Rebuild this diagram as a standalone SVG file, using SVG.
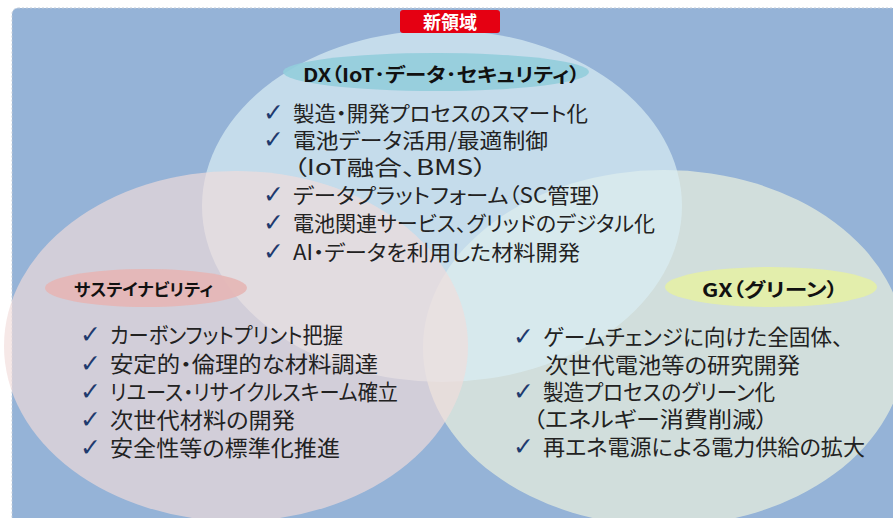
<svg xmlns="http://www.w3.org/2000/svg" width="893" height="518" viewBox="0 0 893 518">
<style>
.t{font-family:'Noto Sans CJK JP','Noto Sans',sans-serif;fill:#222;font-feature-settings:"palt";}
.b{font-weight:700;fill:#111;}
.ck{font-family:'DejaVu Sans',sans-serif;fill:#1f3a6e;font-size:25px;font-weight:700;}
.dx{font-size:21px;}
.it{font-size:21.5px;}
</style>
<rect id="background" x="12" y="8" width="900" height="530" rx="6" fill="#95b3d7" stroke="#c3ccd8" stroke-width="1" stroke-dasharray="2 2"/>
<g id="circle-gx"><ellipse cx="664" cy="348" rx="241" ry="178" fill="#ebf1de" fill-opacity="0.7"/></g>
<g id="circle-dx"><ellipse cx="442" cy="206" rx="240" ry="176" fill="#daeef3" fill-opacity="0.7"/></g>
<g id="circle-sus"><ellipse cx="236" cy="346" rx="232" ry="175" fill="#f2dcdb" fill-opacity="0.66"/></g>

<g id="label-new">
<rect x="400" y="10" width="100" height="23" rx="3" fill="#e50012"/>
<text class="t b" x="450" y="29" font-size="18" text-anchor="middle" style="fill:#fff">新領域</text>
</g>

<g id="label-dx">
<ellipse cx="436" cy="72" rx="153" ry="19" fill="#92cddc" fill-opacity="0.9"/>
<text class="t b" x="303" y="82" font-size="19" textLength="277" lengthAdjust="spacingAndGlyphs">DX（IoT･データ･セキュリティ）</text>
</g>

<g id="items-dx">
<text class="ck" x="263" y="121">✓</text>
<text class="t dx" x="293" y="121" textLength="295" lengthAdjust="spacingAndGlyphs">製造・開発プロセスのスマート化</text>
<text class="ck" x="263" y="148">✓</text>
<text class="t dx" x="293" y="148" textLength="255" lengthAdjust="spacingAndGlyphs">電池データ活用/最適制御</text>
<text class="t dx" x="293" y="175" textLength="194" lengthAdjust="spacingAndGlyphs">（IoT融合、BMS）</text>
<text class="ck" x="263" y="203">✓</text>
<text class="t dx" x="293" y="203" textLength="310" lengthAdjust="spacingAndGlyphs">データプラットフォーム（SC管理）</text>
<text class="ck" x="263" y="231">✓</text>
<text class="t dx" x="293" y="231" textLength="362" lengthAdjust="spacingAndGlyphs">電池関連サービス、グリッドのデジタル化</text>
<text class="ck" x="263" y="260">✓</text>
<text class="t dx" x="293" y="260" textLength="287" lengthAdjust="spacingAndGlyphs">AI・データを利用した材料開発</text>
</g>

<g id="label-sus">
<ellipse cx="146" cy="288" rx="101" ry="19" fill="#e6b6b5" fill-opacity="0.9"/>
<text class="t b" x="74" y="296" font-size="16.5" textLength="139" lengthAdjust="spacingAndGlyphs">サステイナビリティ</text>
</g>

<g id="items-sus">
<text class="ck" x="80" y="343">✓</text>
<text class="t it" x="110" y="343" textLength="233" lengthAdjust="spacingAndGlyphs">カーボンフットプリント把握</text>
<text class="ck" x="80" y="372">✓</text>
<text class="t it" x="110" y="372" textLength="268" lengthAdjust="spacingAndGlyphs">安定的・倫理的な材料調達</text>
<text class="ck" x="80" y="400">✓</text>
<text class="t it" x="110" y="400" textLength="288" lengthAdjust="spacingAndGlyphs">リユース・リサイクルスキーム確立</text>
<text class="ck" x="80" y="428">✓</text>
<text class="t it" x="110" y="428" textLength="185" lengthAdjust="spacingAndGlyphs">次世代材料の開発</text>
<text class="ck" x="80" y="456">✓</text>
<text class="t it" x="110" y="456" textLength="230" lengthAdjust="spacingAndGlyphs">安全性等の標準化推進</text>
</g>

<g id="label-gx">
<ellipse cx="771" cy="287" rx="106" ry="20" fill="#e4eea9" fill-opacity="0.95"/>
<text class="t b" x="702" y="297" font-size="19" textLength="136" lengthAdjust="spacingAndGlyphs">GX（グリーン）</text>
</g>

<g id="items-gx">
<text class="ck" x="513" y="345">✓</text>
<text class="t it" x="543" y="345" textLength="300" lengthAdjust="spacingAndGlyphs">ゲームチェンジに向けた全固体、</text>
<text class="t it" x="545" y="373" textLength="255" lengthAdjust="spacingAndGlyphs">次世代電池等の研究開発</text>
<text class="ck" x="513" y="400">✓</text>
<text class="t it" x="543" y="400" textLength="232" lengthAdjust="spacingAndGlyphs">製造プロセスのグリーン化</text>
<text class="t it" x="533" y="427" textLength="235" lengthAdjust="spacingAndGlyphs">（エネルギー消費削減）</text>
<text class="ck" x="513" y="455">✓</text>
<text class="t it" x="543" y="455" textLength="322" lengthAdjust="spacingAndGlyphs">再エネ電源による電力供給の拡大</text>
</g>
</svg>
